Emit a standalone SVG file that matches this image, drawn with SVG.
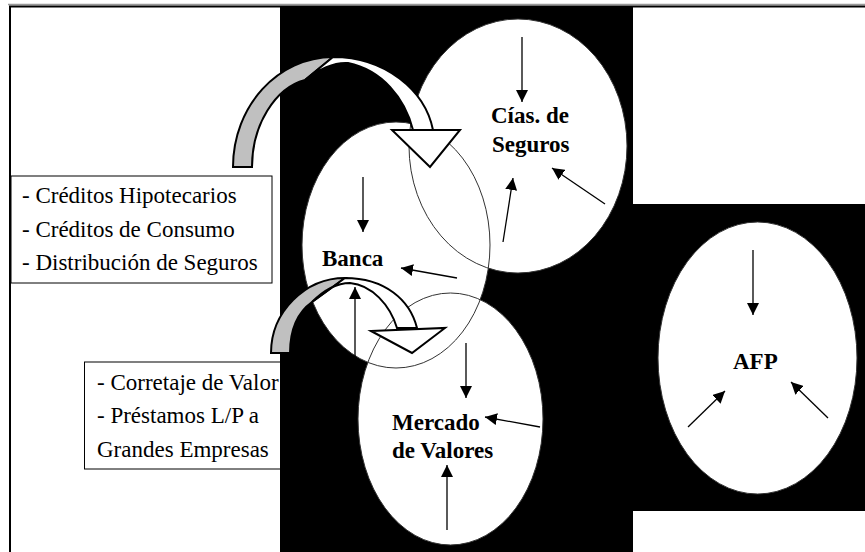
<svg xmlns="http://www.w3.org/2000/svg" width="865" height="552" viewBox="0 0 865 552">
<defs>
<style>
.lbl{font-family:"Liberation Serif","Times New Roman",serif;font-weight:bold;font-size:23px;fill:#000}
.btxt{font-family:"Liberation Serif","Times New Roman",serif;font-size:23px;fill:#000}
.boxr{fill:#fff;stroke:#000;stroke-width:1}
.efill{fill:#fff;stroke:none}
.outline{fill:none;stroke:#333;stroke-width:1}
.arr{stroke:#000;stroke-width:1.3;fill:none;marker-end:url(#ah)}
.band{stroke:#000;stroke-width:2;stroke-linejoin:miter}
.gray{fill:#c0c0c0}
.white{fill:#fff}
</style>
<marker id="ah" viewBox="0 0 12 12" refX="12" refY="6" markerWidth="12" markerHeight="12" markerUnits="userSpaceOnUse" orient="auto"><path d="M0,0 L12,6 L0,12 z" fill="#000"/></marker>
</defs>
<rect width="865" height="552" fill="#fff"/>
<g id="frame">
<line x1="8" y1="4.5" x2="865" y2="4.5" stroke="#999" stroke-width="1.5"/>
<path d="M10,552 V6.5 H865" fill="none" stroke="#000" stroke-width="2"/>
</g>
<g id="box1">
<rect class="boxr" x="11" y="176" width="261" height="107"/>
<text class="btxt" x="22" y="203">- Créditos Hipotecarios</text>
<text class="btxt" x="22" y="237">- Créditos de Consumo</text>
<text class="btxt" x="22" y="270">- Distribución de Seguros</text>
</g>
<g id="box2">
<rect class="boxr" x="84.5" y="362" width="220" height="107"/>
<text class="btxt" x="97" y="390">- Corretaje de Valor</text>
<text class="btxt" x="97" y="423">- Préstamos L/P a</text>
<text class="btxt" x="97" y="457">Grandes Empresas</text>
</g>
<path id="background" d="M280,7 H633 V204 H865 V511 H633 V552 H280 Z" fill="#000"/>
<g id="ellipse-fills">
<ellipse class="efill" cx="518" cy="146" rx="109" ry="127"/>
<ellipse class="efill" cx="396" cy="245" rx="94" ry="123"/>
<ellipse class="efill" cx="450.5" cy="419" rx="92.5" ry="126"/>
<ellipse class="efill" cx="757.5" cy="358" rx="99.5" ry="136"/>
</g>
<g id="cias">
<ellipse class="outline" cx="518" cy="146" rx="109" ry="127"/>
<text class="lbl" x="491" y="123">Cías. de</text>
<text class="lbl" x="492" y="152">Seguros</text>
</g>
<g id="banca">
<ellipse class="outline" cx="396" cy="245" rx="94" ry="123"/>
<text class="lbl" x="322" y="266">Banca</text>
</g>
<g id="mercado">
<ellipse class="outline" cx="450.5" cy="419" rx="92.5" ry="126"/>
<text class="lbl" x="392" y="430">Mercado</text>
<text class="lbl" x="392" y="458">de Valores</text>
</g>
<g id="afp">
<ellipse class="outline" cx="757.5" cy="358" rx="99.5" ry="136"/>
<text class="lbl" x="733" y="369">AFP</text>
</g>
<g id="connectors">
<g id="curved-arrow-1">
<path class="band gray" d="M233,167 C233,106 278,57 333,57 L305,80 C275,88 252,125 252,167 Z"/>
<path class="band white" d="M333,57 C385,57 425,90 433,130 L413,130 C405,98 382,70 348,63 C333,62 318,70 305,80 Z"/>
<polygon class="band white" points="392,130 460,130 430,167"/>
</g>
<g id="curved-arrow-2">
<path class="band gray" d="M271,353 C271,312 305,278 345,278 L312,302 C298,312 290,330 290,353 Z"/>
<path class="band white" d="M345,278 C385,278 410,300 417,328 L397,328 C390,305 372,285 350,283 C335,283 322,292 312,302 Z"/>
<polygon class="band white" points="371,331 445,328 412,353"/>
</g>
<line class="arr" x1="522" y1="37" x2="522" y2="102"/>
<line class="arr" x1="503" y1="242" x2="513" y2="178"/>
<line class="arr" x1="605" y1="204" x2="552" y2="168"/>
<line class="arr" x1="363" y1="177" x2="363" y2="232"/>
<line class="arr" x1="457" y1="278" x2="401" y2="268"/>
<line class="arr" x1="355" y1="357" x2="355" y2="287"/>
<line class="arr" x1="466" y1="343" x2="466" y2="398"/>
<line class="arr" x1="540" y1="427" x2="485" y2="417"/>
<line class="arr" x1="447" y1="530" x2="447" y2="465"/>
<line class="arr" x1="753" y1="250" x2="753" y2="315"/>
<line class="arr" x1="688" y1="427" x2="725" y2="391"/>
<line class="arr" x1="828" y1="418" x2="791" y2="382"/>
</g>
</svg>
